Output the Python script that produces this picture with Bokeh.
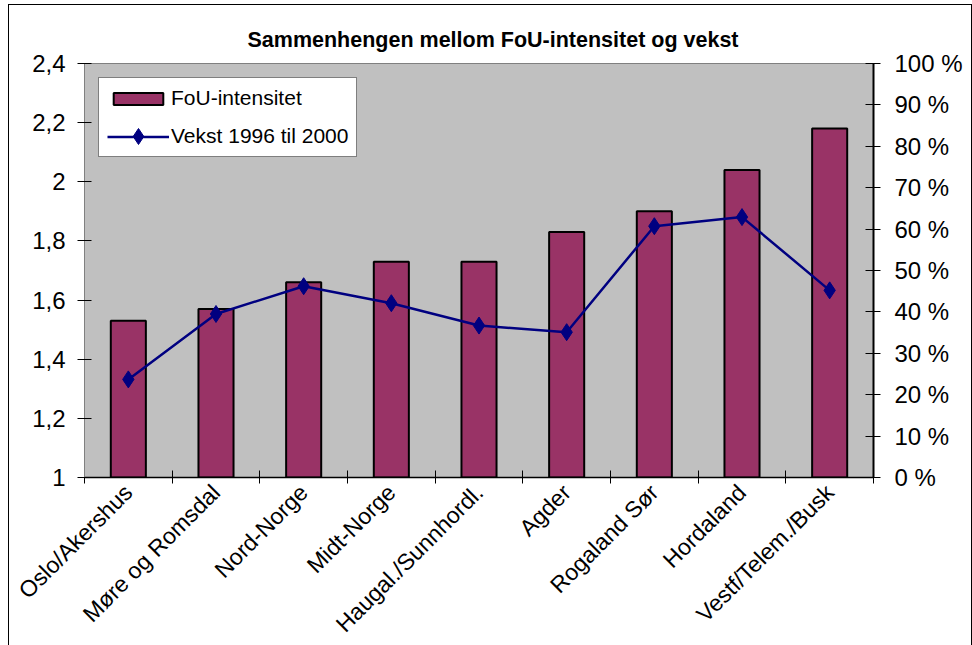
import math
from bokeh.plotting import figure
from bokeh.models import (ColumnDataSource, Range1d, LinearAxis, FixedTicker,
                          CustomJSTickFormatter, Legend, LegendItem)
from bokeh.embed import file_html
from bokeh.resources import INLINE

# ---- data ----
categories = ["Oslo/Akershus", "Møre og Romsdal", "Nord-Norge", "Midt-Norge",
              "Haugal./Sunnhordl.", "Agder", "Rogaland Sør", "Hordaland",
              "Vestf/Telem./Busk"]
fou_intensitet = [1.53, 1.57, 1.66, 1.73, 1.73, 1.83, 1.90, 2.04, 2.18]
vekst_pct = [23.7, 39.5, 46.2, 42.1, 36.7, 35.1, 60.7, 62.9, 45.2]
left_ticks = [1.0, 1.2, 1.4, 1.6, 1.8, 2.0, 2.2, 2.4]
right_ticks = [0, 10, 20, 30, 40, 50, 60, 70, 80, 90, 100]
title_text = "Sammenhengen mellom FoU-intensitet og vekst"
series_names = ["FoU-intensitet", "Vekst 1996 til 2000"]

FONT = "Liberation Sans"
n = len(categories)
xpos = [i + 0.5 for i in range(n)]
src = ColumnDataSource(dict(x=xpos, fou=fou_intensitet, vekst=vekst_pct))

p = figure(frame_width=789, frame_height=414,
           x_range=Range1d(0, n), y_range=Range1d(left_ticks[0], left_ticks[-1]),
           output_backend="svg", toolbar_location=None,
           min_border_left=75, min_border_right=98,
           min_border_top=58, min_border_bottom=167)
p.styles = {"margin-left": "8px", "margin-top": "4px",
            "border-left": "1px solid black", "border-top": "1px solid black",
            "border-right": "1px solid black"}
p.background_fill_color = "#C0C0C0"
p.border_fill_color = "white"
p.outline_line_color = "#808080"
p.outline_line_width = 1
p.grid.visible = False

p.title.text = title_text
p.title.align = "left"
p.title.offset = 163
p.title.text_font = FONT
p.title.text_font_size = "21.5px"
p.title.text_font_style = "bold"
p.title.text_color = "black"
p.title.standoff = 24

p.extra_y_ranges = {"pct": Range1d(right_ticks[0], right_ticks[-1])}

# x axis
xa = p.xaxis[0]
xa.ticker = FixedTicker(ticks=xpos, minor_ticks=list(range(n + 1)))
xa.formatter = CustomJSTickFormatter(args=dict(names=categories),
                                     code="return names[Math.floor(tick)];")
xa.major_tick_in = 0
xa.major_tick_out = 0
xa.minor_tick_in = 7
xa.minor_tick_out = 6
xa.minor_tick_line_color = "black"
xa.axis_line_color = "black"
xa.axis_line_width = 1.5
xa.major_label_orientation = math.pi / 4
xa.major_label_text_font = FONT
xa.major_label_text_font_size = "23px"
xa.major_label_text_color = "black"
xa.major_label_standoff = 5

# left axis
ya = p.yaxis[0]
ya.ticker = FixedTicker(ticks=left_ticks)
ya.formatter = CustomJSTickFormatter(
    code="return (Math.round(tick*10)/10).toString().replace('.', ',');")
ya.major_tick_in = 7
ya.major_tick_out = 7
ya.major_tick_line_color = "black"
ya.axis_line_color = "#808080"
ya.major_label_standoff = 12
ya.major_label_text_font = FONT
ya.major_label_text_font_size = "24px"
ya.major_label_text_color = "black"

# right axis
ra = LinearAxis(y_range_name="pct", ticker=FixedTicker(ticks=right_ticks),
                formatter=CustomJSTickFormatter(code="return Math.round(tick) + ' %';"))
ra.major_tick_in = 8
ra.major_tick_out = 7
ra.major_tick_line_color = "black"
ra.axis_line_color = "black"
ra.axis_line_width = 2
ra.major_label_standoff = 14
ra.major_label_text_font = FONT
ra.major_label_text_font_size = "24px"
ra.major_label_text_color = "black"
p.add_layout(ra, "right")

# glyphs
bars = p.vbar(x="x", top="fou", bottom=left_ticks[0], width=0.4, source=src,
              fill_color="#993366", line_color="black", line_width=2)
line = p.line("x", "vekst", source=src, y_range_name="pct",
              line_color="#000080", line_width=2.5)
pts = p.scatter("x", "vekst", source=src, y_range_name="pct", marker="diamond",
                size=17, fill_color="#000080", line_color="#000080")

legA = Legend(items=[LegendItem(label=series_names[0], renderers=[bars]),
                     LegendItem(label=series_names[1], renderers=[line])],
              location=(14, 320), glyph_width=62, glyph_height=15, label_height=24,
              label_standoff=2, padding=8, spacing=14, margin=0,
              label_text_font=FONT, label_text_font_size="21px",
              label_text_color="black",
              border_line_color="black", border_line_width=1,
              background_fill_color="white", background_fill_alpha=1)
p.add_layout(legA)
legB = Legend(items=[LegendItem(label=" ", renderers=[pts])],
              location=(34, 321), glyph_width=40, glyph_height=40, label_height=10,
              label_standoff=0, padding=0, spacing=0, margin=0,
              label_text_font_size="2px",
              border_line_alpha=0, background_fill_alpha=0)
p.add_layout(legB)

open("out.html", "w").write(file_html(p, INLINE))
